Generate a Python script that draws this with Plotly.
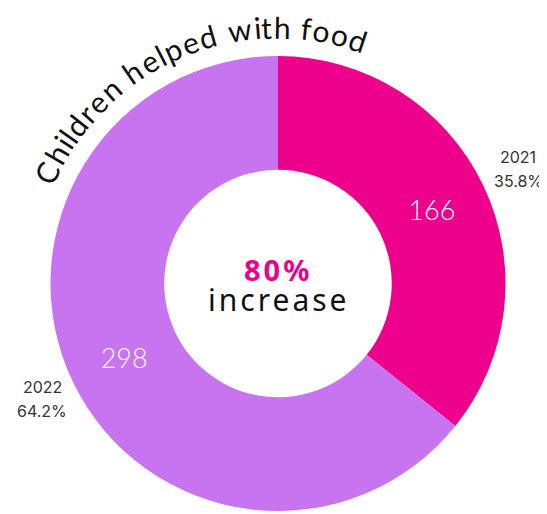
import math
import plotly.graph_objects as go

# ---- data ----
years = ["2021", "2022"]
children = [166, 298]
colors = ["#EC008C", "#C873EF"]
title_text = "Children helped with food"
center_label = "increase"

W, H = 547, 514
OFF = 8  # page body margin offset of the rendered figure
total = sum(children)
shares = [v / total * 100 for v in children]
increase_pct = round((children[1] - children[0]) / children[0] * 100)

# pie geometry in (screen) pixels
cx, cy, R = 278.0, 283.5, 227.5


def px(x, y):
    return (x - OFF) / W, (H - (y - OFF)) / H


dx0, dy1 = px(cx - R, cy - R)
dx1, dy0 = px(cx + R, cy + R)

fig = go.Figure()
fig.add_trace(go.Pie(
    labels=years,
    values=children,
    sort=False,
    direction="clockwise",
    rotation=0,
    hole=0.5,
    marker=dict(colors=colors, line=dict(width=0)),
    textinfo="value",
    textposition="inside",
    insidetextorientation="horizontal",
    textfont=dict(family="Lato", size=27, color="white", weight=300),
    showlegend=False,
    hoverinfo="label+value+percent",
    domain=dict(x=[dx0, dx1], y=[dy0, dy1]),
))

annotations = []

# center text
x0, y0 = px(cx, 269)
annotations.append(dict(x=x0, y=y0, xref="paper", yref="paper", showarrow=False,
                        text=f"<b><span style='letter-spacing:3px'>{increase_pct}%</span></b>",
                        font=dict(family="Noto Sans", size=29, color="#EC008C"),
                        xanchor="center", yanchor="middle"))
x0, y0 = px(cx + 1, 299)
annotations.append(dict(x=x0, y=y0, xref="paper", yref="paper", showarrow=False,
                        text=f"<span style='letter-spacing:3px'>{center_label}</span>",
                        font=dict(family="Noto Sans", size=30, color="#111111"),
                        xanchor="center", yanchor="middle"))

# outside labels
label_pos = [(518, 157, 181), (42, 387, 411)]
for yr, sh, (lx, ly1, ly2) in zip(years, shares, label_pos):
    for txt, ly in ((yr, ly1), (f"{sh:.1f}%", ly2)):
        x0, y0 = px(lx, ly)
        annotations.append(dict(x=x0, y=y0, xref="paper", yref="paper", showarrow=False,
                                text=txt,
                                font=dict(family="Inter", size=16, color="#333333"),
                                xanchor="center", yanchor="middle"))

# curved title
widths = {"C": 0.67, "h": 0.56, "i": 0.23, "l": 0.23, "d": 0.57, "r": 0.36,
          "e": 0.53, "n": 0.56, " ": 0.28, "p": 0.57, "w": 0.78, "t": 0.34,
          "f": 0.31, "o": 0.56}
ws = [widths.get(c, 0.55) for c in title_text]
tot_w = sum(ws)
a_start, a_end = -67.0, 20.5
r_text = 257.0
cum = 0.0
for ch, w in zip(title_text, ws):
    frac = (cum + w / 2) / tot_w
    ang = a_start + frac * (a_end - a_start)
    cum += w
    if ch == " ":
        continue
    rad = math.radians(ang)
    xx = cx + r_text * math.sin(rad)
    yy = cy - r_text * math.cos(rad)
    x0, y0 = px(xx, yy)
    annotations.append(dict(x=x0, y=y0, xref="paper", yref="paper", showarrow=False,
                            text=ch, textangle=ang,
                            font=dict(family="Lato", size=30, color="#111111"),
                            xanchor="center", yanchor="middle"))

fig.update_layout(
    width=W, height=H,
    margin=dict(l=0, r=0, t=0, b=0),
    paper_bgcolor="white",
    plot_bgcolor="white",
    annotations=annotations,
)

fig.write_html("out.html")
